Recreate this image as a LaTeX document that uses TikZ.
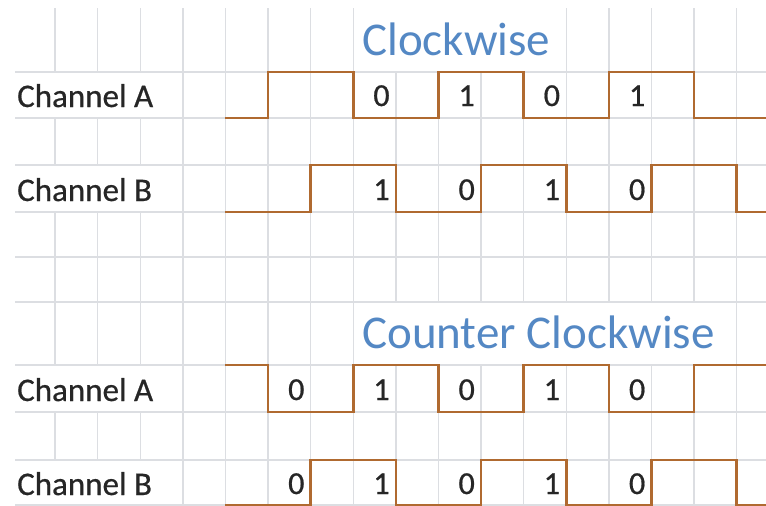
\documentclass[tikz,border=0pt]{standalone}
\usepackage{fontspec}
\setmainfont{Carlito}
\newfontfamily\lblfont[FakeBold=0.6]{Carlito}
\definecolor{gridc}{RGB}{220,222,226}
\definecolor{wavec}{RGB}{176,106,48}
\definecolor{titlec}{RGB}{84,136,196}
\definecolor{textc}{RGB}{38,38,38}
\tikzset{
  gridline/.style={draw=gridc, line width=1.4pt},
  wave/.style={draw=wavec, line width=2.6pt, line join=miter},
  chlabel/.style={anchor=base west, inner sep=0pt, text=textc, font=\lblfont\fontsize{33}{35}\selectfont},
  digit/.style={anchor=base east, inner sep=0pt, text=textc, font=\lblfont\fontsize{32}{34}\selectfont},
  titletext/.style={anchor=base west, inner sep=0pt, text=titlec, font=\fontsize{47}{52}\selectfont},
}
\begin{document}
\begin{tikzpicture}[x=1pt, y=-1pt]
\useasboundingbox[fill=white] (0,0) rectangle (766,506);
% horizontal grid lines
\foreach \yy in {72,118,165,212,257,302,365,412,460,505}
  \draw[gridline] (15,\yy) -- (766,\yy);
% vertical grid lines
\foreach \k in {0,1,2} {
  \draw[gridline] ({55+42.6*\k},8) -- ({55+42.6*\k},72);
  \draw[gridline] ({55+42.6*\k},118) -- ({55+42.6*\k},165);
  \draw[gridline] ({55+42.6*\k},212) -- ({55+42.6*\k},365);
  \draw[gridline] ({55+42.6*\k},412) -- ({55+42.6*\k},460);
}
\foreach \k in {3,4,5,6,7,16}
  \draw[gridline] ({55+42.6*\k},8) -- ({55+42.6*\k},506);
\foreach \k in {8,9,10,11} {
  \draw[gridline] ({55+42.6*\k},72) -- ({55+42.6*\k},302);
  \draw[gridline] ({55+42.6*\k},365) -- ({55+42.6*\k},506);
}
\foreach \k in {12,13,14,15} {
  \draw[gridline] ({55+42.6*\k},8) -- ({55+42.6*\k},302);
  \draw[gridline] ({55+42.6*\k},365) -- ({55+42.6*\k},506);
}
% titles
\node[titletext] (cwtitle) at (362,55) {Clockwise};
\node[titletext] (ccwtitle) at (362,348) {Counter Clockwise};
% channel labels
\node[chlabel] (cwA) at (17,107) {Channel A};
\node[chlabel] (cwB) at (17,201) {Channel B};
\node[chlabel] (ccwA) at (17,401) {Channel A};
\node[chlabel] (ccwB) at (17,495) {Channel B};
% waveforms
\draw[wave] (225.4,118) -- (268,118) -- (268,72) -- (353.2,72) -- (353.2,118) -- (438.4,118) -- (438.4,72) -- (523.6,72) -- (523.6,118) -- (608.8,118) -- (608.8,72) -- (694,72) -- (694,118) -- (766,118);
\draw[wave] (225.4,212) -- (310.6,212) -- (310.6,165) -- (395.8,165) -- (395.8,212) -- (481,212) -- (481,165) -- (566.2,165) -- (566.2,212) -- (651.4,212) -- (651.4,165) -- (736.6,165) -- (736.6,212) -- (766,212);
\draw[wave] (225.4,365) -- (268,365) -- (268,412) -- (353.2,412) -- (353.2,365) -- (438.4,365) -- (438.4,412) -- (523.6,412) -- (523.6,365) -- (608.8,365) -- (608.8,412) -- (694,412) -- (694,365) -- (766,365);
\draw[wave] (225.4,505) -- (310.6,505) -- (310.6,460) -- (395.8,460) -- (395.8,505) -- (481,505) -- (481,460) -- (566.2,460) -- (566.2,505) -- (651.4,505) -- (651.4,460) -- (736.6,460) -- (736.6,505) -- (766,505);
% digits CW A
\node[digit] (a1) at (389.8,106) {0};
\node[digit] (a2) at (475,106) {1};
\node[digit] (a3) at (560.2,106) {0};
\node[digit] (a4) at (645.4,106) {1};
% digits CW B
\node[digit] (b1) at (389.8,200) {1};
\node[digit] (b2) at (475,200) {0};
\node[digit] (b3) at (560.2,200) {1};
\node[digit] (b4) at (645.4,200) {0};
% digits CCW A
\node[digit] (c0) at (304.6,400) {0};
\node[digit] (c1) at (389.8,400) {1};
\node[digit] (c2) at (475,400) {0};
\node[digit] (c3) at (560.2,400) {1};
\node[digit] (c4) at (645.4,400) {0};
% digits CCW B
\node[digit] (d0) at (304.6,494) {0};
\node[digit] (d1) at (389.8,494) {1};
\node[digit] (d2) at (475,494) {0};
\node[digit] (d3) at (560.2,494) {1};
\node[digit] (d4) at (645.4,494) {0};
\end{tikzpicture}
\end{document}
